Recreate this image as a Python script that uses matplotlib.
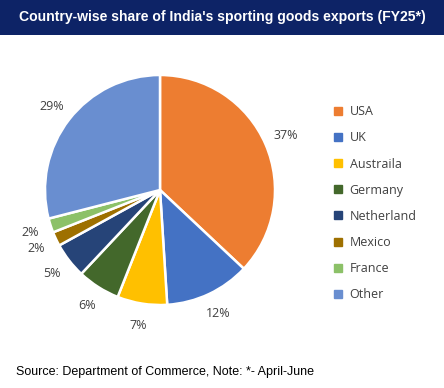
import matplotlib
matplotlib.use("Agg")
import numpy as np
import matplotlib.pyplot as plt
from matplotlib.patches import Rectangle
from matplotlib.lines import Line2D

# data
countries = ["USA", "UK", "Austraila", "Germany", "Netherland", "Mexico", "France", "Other"]
shares = [37, 12, 7, 6, 5, 2, 2, 29]
colors = ["#ED7D31", "#4472C4", "#FFC000", "#43682B", "#264478", "#9E7000", "#8CC168", "#698ED0"]

title = "Country-wise share of India's sporting goods exports (FY25*)"
source = "Source: Department of Commerce, Note: *- April-June"

W, H = 444, 388
fig = plt.figure(figsize=(W / 100, H / 100), dpi=100)
fig.patch.set_facecolor("white")

# title bar
fig.patches.append(Rectangle((0, 1 - 35 / H), 1, 35 / H, transform=fig.transFigure,
                             facecolor="#0D2366", edgecolor="none", zorder=0))
fig.text(0.5, 1 - 17 / H, title, ha="center", va="center", color="white",
         fontsize=10.1, fontweight="bold", family="Liberation Sans")

# pie axes: centre (160,190) px, radius 115 px, limits +-1.5
cx, cy, r = 160, 190, 115
half = 1.5 * r
ax = fig.add_axes([(cx - half) / W, (H - cy - half) / H, 2 * half / W, 2 * half / H])
wedges, _ = ax.pie(shares, colors=colors, startangle=90, counterclock=False,
                   wedgeprops=dict(edgecolor="white", linewidth=1.8))
for w, s in zip(wedges, shares):
    ang = np.deg2rad((w.theta1 + w.theta2) / 2)
    ax.text(1.19 * np.cos(ang), 1.19 * np.sin(ang), f"{s}%", ha="center", va="center",
            color="#404040", fontsize=9, family="Open Sans")
ax.set_xlim(-1.5, 1.5)
ax.set_ylim(-1.5, 1.5)
ax.axis("off")

handles = [Line2D([], [], marker="s", linestyle="none", markersize=6,
                  markerfacecolor=c, markeredgecolor=c) for c in colors]
fig.legend(handles, countries, loc="upper left", bbox_to_anchor=(322 / W, 1 - 94 / H),
           frameon=False, handlelength=0.8, handletextpad=0.5, labelspacing=1.05,
           prop=dict(family="Open Sans", size=9), labelcolor="#404040")

fig.text(16 / W, 1 - 372 / H, source, ha="left", va="center", color="black",
         fontsize=9, family="Liberation Sans")

fig.savefig("out.png", dpi=100)
